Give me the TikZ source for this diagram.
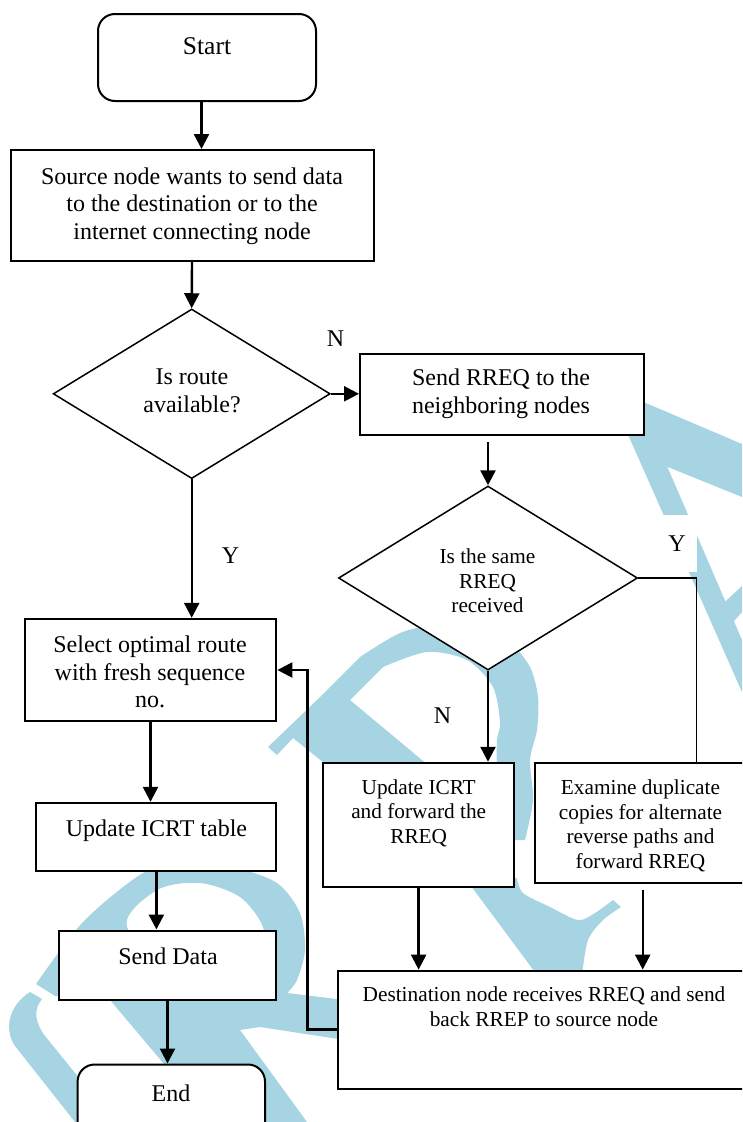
\documentclass[tikz,border=0pt]{standalone}
\usepackage{fontspec}
\setmainfont{Liberation Serif}
\usetikzlibrary{arrows.meta,shapes.geometric,calc}
\definecolor{wm}{RGB}{166,212,226}
\tikzset{
  box/.style={draw=black, line width=2pt, fill=white, inner sep=0pt},
  dia/.style={diamond, draw=black, line width=1.5pt, fill=white, inner sep=0pt},
  big/.style={font=\fontsize{24}{27.6}\selectfont, align=center, inner sep=0pt},
  small/.style={font=\fontsize{21.3}{24.6}\selectfont, align=center, inner sep=0pt},
  arr/.style={line width=2.4pt, -{Triangle[length=15pt,width=15pt]}},
  thinline/.style={line width=1.1pt},
  lbl/.style={font=\fontsize{24}{27.6}\selectfont, fill=white, inner sep=2pt},
}
\begin{document}
\begin{tikzpicture}[x=1pt,y=-1pt]
\useasboundingbox (0,0) rectangle (742,1122);
\clip (0,0) rectangle (742,1122);
% ---- watermark (background shapes) ----
% top right
\fill[wm] (634,398) -- (742,444) -- (742,497) -- (658,463) -- cycle;
\fill[wm] (618,412) -- (642,408) -- (742,640) -- (742,692) -- cycle;
\fill[wm] (714,612) -- (742,586) -- (742,612) -- (728,628) -- cycle;
% centre letter: serif, bowl and stem top
\fill[wm] (268,747) -- (317,700) -- (360,657)
   -- plot[smooth] coordinates {(360,657) (400,633) (437,625) (477,628) (510,643) (530,667) (538,697) (537,730) (530,760) (533,800) (525,840)}
   -- (505,840) -- (512,803)
   -- plot[smooth] coordinates {(512,803) (498,770) (497,740) (500,723) (493,687) (467,660) (427,652) (383,667)}
   -- (350,700) -- (470,800) -- (380,808) -- (293,738) -- (277,755) -- cycle;
% centre letter: foot with flick
\fill[wm] (465,878) -- plot[smooth] coordinates {(465,878) (500,925) (537,975)} -- (582,975)
   -- plot[smooth] coordinates {(582,975) (588,940) (603,920) (621,907)}
   -- (613,900)
   -- plot[smooth] coordinates {(613,900) (595,913) (578,920) (550,907) (523,893) (517,878)} -- cycle;
% lower left letter
\fill[wm, even odd rule] (36,984)
   -- plot[smooth] coordinates {(36,984) (83,922) (143,873) (187,862) (233,867) (277,883) (300,913) (305,950) (297,980) (287,993)}
   -- (345,1000) -- (345,1040) -- (260,1027) -- (240,1030) -- (307,1122) -- (213,1122) -- (110,1000) -- (55,996) -- cycle
   plot[smooth cycle] coordinates {(127,927) (157,890) (200,883) (240,897) (263,927) (262,960) (240,990) (190,985)};
\fill[wm] (30,992) -- (42,999) .. controls (33,1010) and (35,1022) .. (45,1036) -- (115,1122) -- (75,1122) -- (15,1046) .. controls (4,1030) and (8,1006) .. cycle;

% ---- boxes ----
\node[box, rounded corners=17pt, minimum width=218, minimum height=87] (start) at (207,57.5) {};
\node[box, minimum width=363, minimum height=111] (src) at (192,205.5) {};
\node[dia, minimum width=277, minimum height=169.6] (dia1) at (191.7,393.8) {};
\node[box, minimum width=283.6, minimum height=81] (box3) at (501.8,394.5) {};
\node[dia, minimum width=299, minimum height=184] (dia2) at (488,578) {};
\node[box, minimum width=251.8, minimum height=102.3] (select) at (150.5,670) {};
\node[box, minimum width=240, minimum height=68] (upd) at (156.4,836.8) {};
\node[box, minimum width=217.7, minimum height=69.8] (senddata) at (167.5,965.4) {};
\node[box, rounded corners=17pt, minimum width=187.4, minimum height=85] (end) at (171.3,1107) {};
\node[box, minimum width=191.6, minimum height=124.3] (updfwd) at (418.6,824.9) {};
\node[box, minimum width=213, minimum height=120] (exam) at (641.5,822.7) {};
\node[box, minimum width=409.6, minimum height=118] (dest) at (543.2,1029.6) {};

% ---- texts ----
\node[big, font=\fontsize{25.5}{29}\selectfont] (tstart) at (207,46) {Start};
\node[big] (tsrc) at (192,206) {Source node wants to send data\\to the destination or to the\\internet connecting node};
\node[big] (tdia1) at (192,391) {Is route\\available?};
\node[big] (tbox3) at (501,394) {Send RREQ to the\\neighboring nodes};
\node[small] (tdia2) at (487.5,581) {Is the same\\RREQ\\received};
\node[big] (tselect) at (150,672) {Select optimal route\\with fresh sequence\\no.};
\node[big] (tupd) at (156.5,831) {Update ICRT table};
\node[big] (tsend) at (168,956) {Send Data};
\node[big] (tend) at (171,1093) {End};
\node[small] (tupdfwd) at (418.7,813) {Update ICRT\\and forward the\\RREQ};
\node[small] (texam) at (640.5,826) {Examine duplicate\\copies for alternate\\reverse paths and\\forward RREQ};
\node[small] (tdest) at (544,1007) {Destination node receives RREQ and send\\back RREP to source node};

% ---- labels ----
\node[lbl] (n1) at (335.5,339) {N};
\node[lbl] (y1) at (230.5,556) {Y};
\node[lbl, minimum height=57pt, minimum width=40pt] (y2) at (677,543.5) {Y};
\node[lbl] (n2) at (442.5,716) {N};

% ---- connectors ----
\coordinate (c1) at (201.5,0);
\coordinate (c2) at (642.7,0);
\coordinate (c3) at (696.6,0);
\coordinate (c4) at (307.6,0);
\draw[arr] (start.south -| c1) -- (src.north -| c1);
\draw[arr] (src.south) -- (dia1.north);
\draw[arr] (dia1.east) -- (dia1.east -| box3.west);
\draw[arr] ($(box3.south -| dia2.north)+(0,6)$) -- (dia2.north);
\draw[arr] (dia1.south) -- (dia1.south |- select.north);
\draw[arr] (dia2.south) -- (dia2.south |- updfwd.north);
\draw[thinline] (dia2.east) -- (dia2.east -| c3) -- (exam.north -| c3);
\draw[arr] (select.south) -- (select.south |- upd.north);
\draw[arr] (upd.south) -- (upd.south |- senddata.north);
\draw[arr] (senddata.south) -- (senddata.south |- end.north);
\draw[arr] (updfwd.south) -- (updfwd.south |- dest.north);
\draw[arr] ($(exam.south -| c2)+(0,6.6)$) -- (dest.north -| c2);
\draw[arr] (dest.west) -- (dest.west -| c4) -- (select.east -| c4) -- (select.east);
\end{tikzpicture}
\end{document}
